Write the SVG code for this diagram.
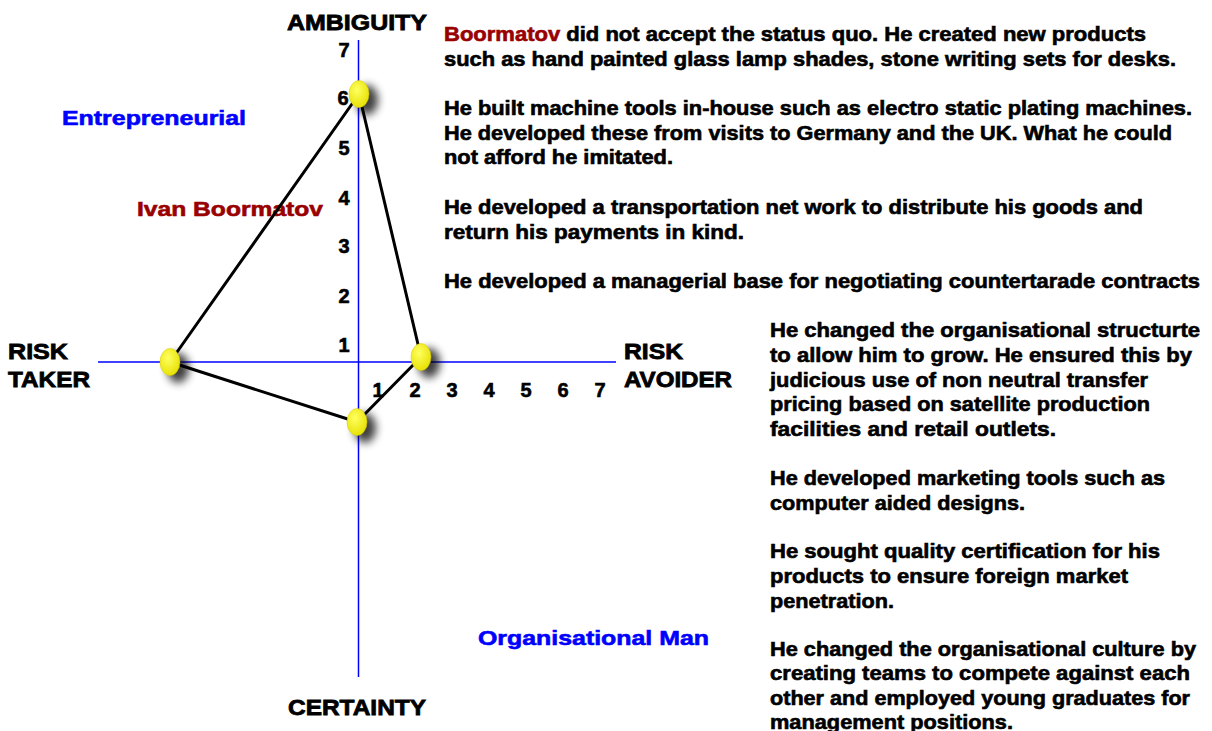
<svg xmlns="http://www.w3.org/2000/svg" width="1212" height="731" viewBox="0 0 1212 731">
<style>
.t{font-family:"Liberation Sans",Arial,sans-serif;font-weight:bold;fill:#000;stroke:#000;stroke-width:0.6}
.b{font-size:20px}
.ax{font-size:22px;stroke-width:0.8}
.n{font-size:20px}
.blue{fill:#0000ff;stroke:#0000ff;font-size:21px}
.red{fill:#990000;stroke:#990000}
.axis{stroke:#0000ff;stroke-width:1.5;fill:none}
.edge{stroke:#000;stroke-width:3;fill:none;stroke-linecap:round}
.dot{fill:url(#yg);stroke:#d8c800;stroke-width:0.5}
.sh{fill:#000;opacity:0.75;filter:url(#blur)}
</style>
<defs>
<radialGradient id="yg" cx="0.4" cy="0.35" r="0.7">
<stop offset="0" stop-color="#ffff60"/>
<stop offset="1" stop-color="#e6e000"/>
</radialGradient>
<filter id="blur" x="-1" y="-1" width="3" height="3"><feGaussianBlur stdDeviation="4"/></filter>
</defs>
<rect width="1212" height="731" fill="#fff"/>
<g id="axes">
<line class="axis" x1="358.5" y1="40" x2="358.5" y2="677"/>
<line class="axis" x1="98" y1="362" x2="616" y2="362"/>
</g>
<g id="axis-labels">
<text class="t ax" x="357" y="30" text-anchor="middle" textLength="140" lengthAdjust="spacingAndGlyphs">AMBIGUITY</text>
<text class="t ax" x="357" y="715" text-anchor="middle" textLength="138" lengthAdjust="spacingAndGlyphs">CERTAINTY</text>
<text class="t ax" x="8" y="359" textLength="60" lengthAdjust="spacingAndGlyphs">RISK</text>
<text class="t ax" x="8" y="387" textLength="82" lengthAdjust="spacingAndGlyphs">TAKER</text>
<text class="t ax" x="624" y="359" textLength="59" lengthAdjust="spacingAndGlyphs">RISK</text>
<text class="t ax" x="624" y="387" textLength="108" lengthAdjust="spacingAndGlyphs">AVOIDER</text>
</g>
<g id="ticks" class="t n" text-anchor="middle">
<text x="344" y="57">7</text>
<text x="343" y="105">6</text>
<text x="344" y="155">5</text>
<text x="344" y="205">4</text>
<text x="344" y="253">3</text>
<text x="344" y="303">2</text>
<text x="344" y="352">1</text>
<text x="378" y="397">1</text>
<text x="415" y="397">2</text>
<text x="452" y="397">3</text>
<text x="489" y="397">4</text>
<text x="526" y="397">5</text>
<text x="563" y="397">6</text>
<text x="600" y="397">7</text>
</g>
<g id="quadrant-labels">
<text class="t blue" x="62" y="125" textLength="184" lengthAdjust="spacingAndGlyphs">Entrepreneurial</text>
<text class="t red" x="137" y="216" style="font-size:21px" textLength="186" lengthAdjust="spacingAndGlyphs">Ivan Boormatov</text>
<text class="t blue" x="478" y="645" textLength="231" lengthAdjust="spacingAndGlyphs">Organisational Man</text>
</g>
<g id="connectors">
<line class="edge" x1="359" y1="94" x2="170" y2="362"/>
<line class="edge" x1="359" y1="94" x2="421" y2="357"/>
<line class="edge" x1="170" y1="362" x2="357" y2="422"/>
<line class="edge" x1="357" y1="422" x2="421" y2="357"/>
</g>
<g id="node-top"><ellipse class="sh" cx="367" cy="100" rx="11" ry="15"/><ellipse class="dot" cx="359" cy="94" rx="10" ry="13.5"/></g>
<g id="node-left"><ellipse class="sh" cx="178" cy="368" rx="11" ry="15"/><ellipse class="dot" cx="170" cy="362" rx="10" ry="13.5"/></g>
<g id="node-right"><ellipse class="sh" cx="429" cy="363" rx="11" ry="15"/><ellipse class="dot" cx="421" cy="357" rx="10" ry="13.5"/></g>
<g id="node-bottom"><ellipse class="sh" cx="365" cy="428" rx="11" ry="15"/><ellipse class="dot" cx="357" cy="422" rx="10" ry="13.5"/></g>
<g id="text-top" class="t b">
<text x="444" y="41" textLength="702" lengthAdjust="spacingAndGlyphs"><tspan class="red">Boormatov</tspan> did not accept the status quo. He created new products</text>
<text x="444" y="66" textLength="732" lengthAdjust="spacingAndGlyphs">such as hand painted glass lamp shades, stone writing sets for desks.</text>
<text x="444" y="115" textLength="748" lengthAdjust="spacingAndGlyphs">He built machine tools in-house such as electro static plating machines.</text>
<text x="444" y="140" textLength="728" lengthAdjust="spacingAndGlyphs">He developed these from visits to Germany and the UK. What he could</text>
<text x="444" y="164" textLength="229" lengthAdjust="spacingAndGlyphs">not afford he imitated.</text>
<text x="444" y="214" textLength="699" lengthAdjust="spacingAndGlyphs">He developed a transportation net work to distribute his goods and</text>
<text x="444" y="239" textLength="300" lengthAdjust="spacingAndGlyphs">return his payments in kind.</text>
<text x="444" y="288" textLength="756" lengthAdjust="spacingAndGlyphs">He developed a managerial base for negotiating countertarade contracts</text>
</g>
<g id="text-right" class="t b">
<text x="770" y="337" textLength="430" lengthAdjust="spacingAndGlyphs">He changed the organisational structurte</text>
<text x="770" y="362" textLength="422" lengthAdjust="spacingAndGlyphs">to allow him to grow. He ensured this by</text>
<text x="770" y="387" textLength="378" lengthAdjust="spacingAndGlyphs">judicious use of non neutral transfer</text>
<text x="770" y="411" textLength="380" lengthAdjust="spacingAndGlyphs">pricing based on satellite production</text>
<text x="770" y="436" textLength="286" lengthAdjust="spacingAndGlyphs">facilities and retail outlets.</text>
<text x="770" y="485" textLength="395" lengthAdjust="spacingAndGlyphs">He developed marketing tools such as</text>
<text x="770" y="510" textLength="255" lengthAdjust="spacingAndGlyphs">computer aided designs.</text>
<text x="770" y="558" textLength="390" lengthAdjust="spacingAndGlyphs">He sought quality certification for his</text>
<text x="770" y="583" textLength="358" lengthAdjust="spacingAndGlyphs">products to ensure foreign market</text>
<text x="770" y="608" textLength="124" lengthAdjust="spacingAndGlyphs">penetration.</text>
<text x="770" y="656" textLength="426" lengthAdjust="spacingAndGlyphs">He changed the organisational culture by</text>
<text x="770" y="680" textLength="420" lengthAdjust="spacingAndGlyphs">creating teams to compete against each</text>
<text x="770" y="705" textLength="420" lengthAdjust="spacingAndGlyphs">other and employed young graduates for</text>
<text x="770" y="729" textLength="243" lengthAdjust="spacingAndGlyphs">management positions.</text>
</g>
</svg>
